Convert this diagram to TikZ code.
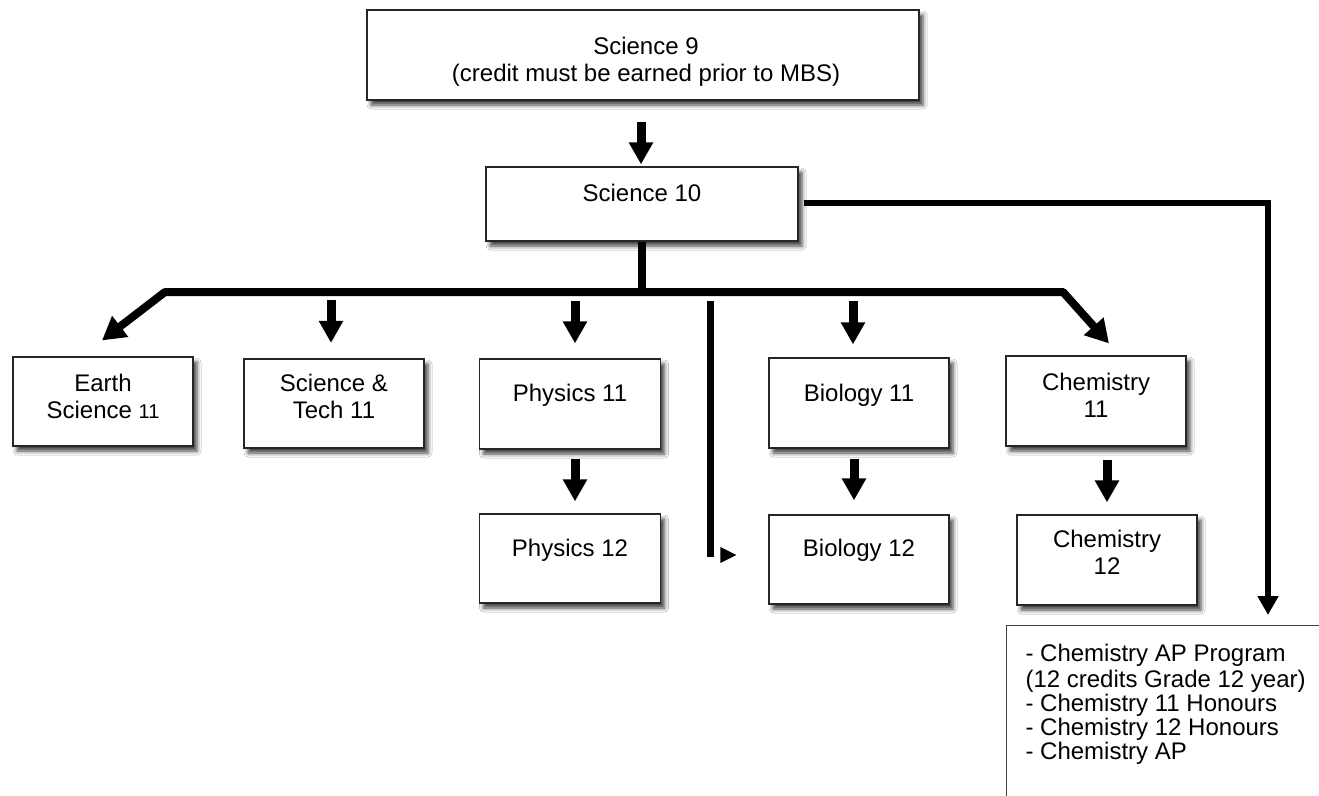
\documentclass[tikz,border=0pt]{standalone}
\usepackage{fontspec}
\setmainfont{Liberation Sans}
\usetikzlibrary{arrows.meta,shadows.blur,calc}
\newcommand{\boxcontent}[4]{\parbox[c][#2][t]{#1}{\centering\vspace*{#3}\strut#4\par}}
\newcommand{\listcontent}[4]{\parbox[c][#2][t]{#1}{\raggedright\leftskip=19pt\vspace*{#3}\strut#4\par}}
\tikzset{
  box/.style={draw=black!85, line width=1.2pt, fill=white, inner sep=0pt,
    font=\fontsize{24}{27.6}\selectfont,
    blur shadow={shadow xshift=4pt, shadow yshift=-5pt, shadow blur radius=4pt, shadow opacity=75}},
  listbox/.style={draw=black!75, line width=1.1pt, fill=white, inner sep=0pt,
    font=\fontsize{24}{24}\selectfont},
  fat/.style={line width=9pt, -{Triangle[width=23pt,length=22pt]}},
  busline/.style={line width=8pt},
  longline/.style={line width=6.5pt},
}
\begin{document}
\begin{tikzpicture}[x=1pt,y=-1pt]
\useasboundingbox (0,0) rectangle (1319,795);
\fill[white] (0,0) rectangle (1319,795);

% boxes
\node[box] (sci9) at (643,55) {\boxcontent{552pt}{90pt}{25pt}{\hspace*{6pt}Science 9\\\hspace*{6pt}(credit must be earned prior to MBS)}};
\node[box] (sci10) at (642,204) {\boxcontent{312pt}{74pt}{15pt}{Science 10}};
\node[box] (earth) at (103,401.5) {\boxcontent{180pt}{89pt}{15pt}{Earth\\Science {\fontsize{20}{27.6}\selectfont 11}}};
\node[box] (scitech) at (334,403.5) {\boxcontent{180pt}{89pt}{13pt}{Science \&\\Tech 11}};
\node[box] (phy11) at (570,404) {\boxcontent{181pt}{90pt}{23pt}{Physics 11}};
\node[box] (bio11) at (859,403) {\boxcontent{180pt}{90pt}{24pt}{Biology 11}};
\node[box] (chem11) at (1096,401) {\boxcontent{180pt}{90pt}{15pt}{Chemistry\\11}};
\node[box] (phy12) at (570,558.5) {\boxcontent{181pt}{89pt}{23pt}{Physics 12}};
\node[box] (bio12) at (859,559.5) {\boxcontent{180pt}{89pt}{22pt}{Biology 12}};
\node[box] (chem12) at (1107,560) {\boxcontent{180pt}{90pt}{13pt}{Chemistry\\12}};
\node[listbox, anchor=north west] (ap) at (1006,625) {\listcontent{340pt}{200pt}{19pt}{- Chemistry AP Program\\(12 credits Grade 12 year)\\- Chemistry 11 Honours\\- Chemistry 12 Honours\\- Chemistry AP}};

% connectors
\coordinate (busL) at (165,292);
\coordinate (busR) at (1063,292);
\draw[fat] ([shift={(-2,21)}]sci9.south) -- ([shift={(-1,-2)}]sci10.north);
\draw[busline] (sci10.south) -- (sci10.south |- busL);
\draw[busline, line join=round, {Triangle[width=25pt,length=23pt]}-{Triangle[width=25pt,length=23pt]}]
  ([shift={(-1,-16)}]earth.north) -- (busL) -- (busR) -- ([shift={(13,-12)}]chem11.north);
\draw[fat] ([shift={(-3,-58.5)}]scitech.north) -- ([shift={(-3,-15.5)}]scitech.north);
\draw[fat] ([shift={(5,-57)}]phy11.north) -- ([shift={(5,-15)}]phy11.north);
\draw[fat] ([shift={(-6,-56)}]bio11.north) -- ([shift={(-6,-13)}]bio11.north);
\draw[fat] ([shift={(5,9)}]phy11.south) -- ([shift={(5,-12)}]phy12.north);
\draw[fat] ([shift={(-5,10)}]bio11.south) -- ([shift={(-5,-14)}]bio12.north);
\draw[fat] ([shift={(11,13)}]chem11.south) -- ([shift={(0,-12)}]chem12.north);
\draw[longline, -{Triangle[width=20pt,length=19pt]}] ([shift={(5,-1)}]sci10.east) -| ([shift={(262,-10)}]ap.north west);

% side line towards Biology 12
\coordinate (vtop) at (710,301);
\coordinate (vbot) at (710,557);
\coordinate (bioin) at ([shift={(-32,-4.5)}]bio12.west);
\draw[line width=7pt] (vtop) -- (vbot);
\fill (bioin) -- ++(-16,-8) -- ++(0,16) -- cycle;
\end{tikzpicture}
\end{document}
